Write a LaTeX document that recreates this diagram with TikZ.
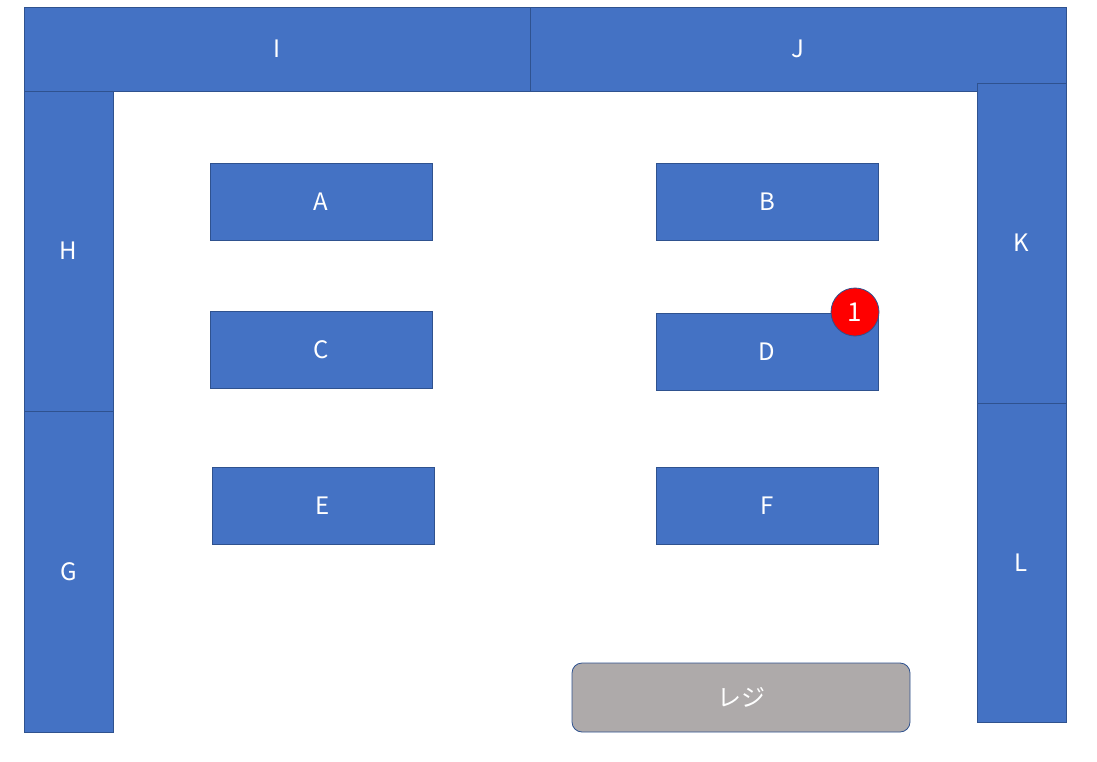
\documentclass[tikz,border=0pt]{standalone}
\usepackage{fontspec}
\setmainfont{Noto Sans CJK JP}
\definecolor{boxblue}{HTML}{4472C4}
\definecolor{edgeblue}{HTML}{2F528F}
\definecolor{regigray}{HTML}{AEAAAA}
\begin{document}
\begin{tikzpicture}[x=1pt,y=-1pt,
  blk/.style={draw=edgeblue,fill=boxblue,line width=0.8pt,text=white,font=\fontsize{24}{28}\selectfont},
  badge/.style={circle,draw=edgeblue,fill=red,line width=0.8pt,text=white,inner sep=0pt,minimum size=48pt,font=\fontsize{26}{30}\selectfont},
  regi/.style={draw=edgeblue,fill=regigray,rounded corners=10pt,line width=0.8pt,text=white,font=\fontsize{24}{28}\selectfont}]
\useasboundingbox (0,0) rectangle (1097,762);
\draw[blk] (24,7) rectangle (530,91) node[midway] (I) {I};
\draw[blk] (530,7) rectangle (1066,91) node[midway] (J) {J};
\draw[blk] (24,91) rectangle (113,411) node[midway] (H) {H};
\draw[blk] (24,411) rectangle (113,732) node[midway] (G) {G};
\draw[blk] (977,83) rectangle (1066,403) node[midway] (K) {K};
\draw[blk] (977,403) rectangle (1066,722) node[midway] (L) {L};
\draw[blk] (210,163) rectangle (432,240) node[midway] (A) {A};
\draw[blk] (656,163) rectangle (878,240) node[midway] (B) {B};
\draw[blk] (210,311) rectangle (432,388) node[midway] (C) {C};
\draw[blk] (656,313) rectangle (878,390) node[midway] (D) {D};
\draw[blk] (212,467) rectangle (434,544) node[midway] (E) {E};
\draw[blk] (656,467) rectangle (878,544) node[midway] (F) {F};
\draw[regi] (572,663) rectangle (910,732) node[midway] (R) {レジ};
\node[badge] (one) at (855,312) {1};
\end{tikzpicture}
\end{document}
